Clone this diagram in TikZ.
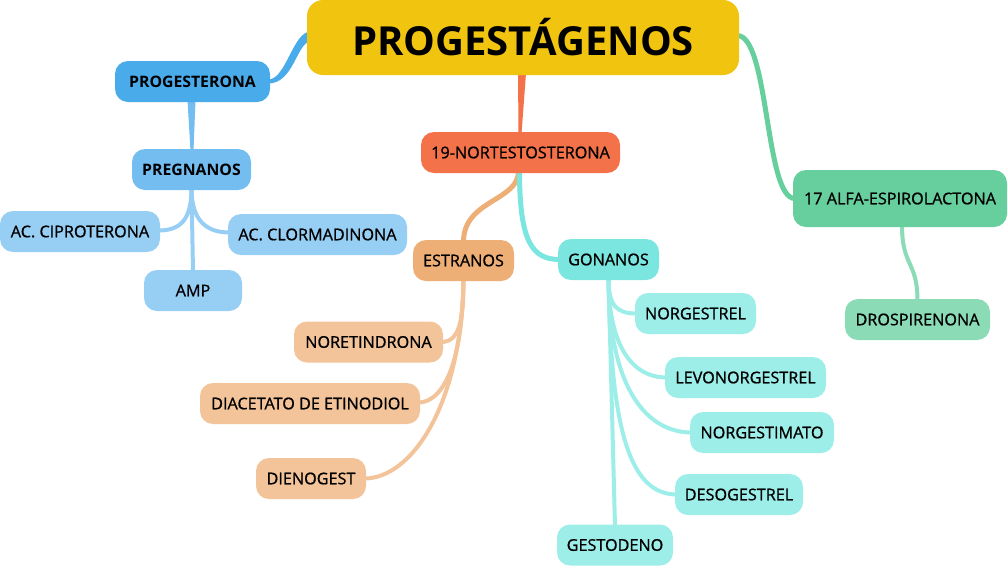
\documentclass[tikz,border=0pt]{standalone}
\usepackage{fontspec}
\setmainfont{Open Sans}
\newfontface\semibf[FakeBold=0.9]{Open Sans}
\usetikzlibrary{calc,backgrounds}
\definecolor{cTitle}{HTML}{F1C40F}
\definecolor{cProg}{HTML}{4AABEB}
\definecolor{cPreg}{HTML}{74BDF1}
\definecolor{cPregK}{HTML}{97CEF4}
\definecolor{cNor}{HTML}{F3724A}
\definecolor{cEst}{HTML}{EEAF76}
\definecolor{cEstK}{HTML}{F3C39A}
\definecolor{cGon}{HTML}{7AE6DF}
\definecolor{cGonK}{HTML}{9DEEE9}
\definecolor{cAlfa}{HTML}{67CF9E}
\definecolor{cDros}{HTML}{8ADBB6}
\begin{document}
\begin{tikzpicture}[x=1pt,y=-1pt,
  box/.style={rounded corners=13pt, minimum height=41pt, inner sep=0pt, text=black,
    font=\semibf\fontsize{16.2}{19}\selectfont},
  boldbox/.style={box, font=\bfseries\fontsize{15.8}{18}\selectfont},
  link/.style={line width=4pt, line cap=round},
  mainlink/.style={line width=5pt, line cap=round}]
\useasboundingbox (0,0) rectangle (1008,566);

% nodes
\node[box, fill=cTitle, minimum width=432pt, minimum height=75pt, rounded corners=16pt,
  font=\bfseries\fontsize{40}{44}\selectfont] (title) at (523,37.5) {PROGESTÁGENOS};

\node[boldbox, fill=cProg, minimum width=155pt] (prog) at (192.5,81.5) {PROGESTERONA};
\node[boldbox, fill=cPreg, minimum width=119pt] (preg) at (191.5,169.5) {PREGNANOS};
\node[box, fill=cPregK, minimum width=160pt] (cipro) at (80,231.5) {AC. CIPROTERONA};
\node[box, fill=cPregK, minimum width=179pt] (clor) at (317.5,234.5) {AC. CLORMADINONA};
\node[box, fill=cPregK, minimum width=98pt] (amp) at (193,290.5) {AMP};

\node[box, fill=cNor, minimum width=199pt] (nor) at (520.5,152.5) {19-NORTESTOSTERONA};
\node[box, fill=cEst, minimum width=101pt] (est) at (463.5,260.5) {ESTRANOS};
\node[box, fill=cEstK, minimum width=149pt] (noret) at (368.5,342) {NORETINDRONA};
\node[box, fill=cEstK, minimum width=220pt] (diac) at (310,403.5) {DIACETATO DE ETINODIOL};
\node[box, fill=cEstK, minimum width=110pt] (dien) at (311,478.5) {DIENOGEST};

\node[box, fill=cGon, minimum width=101pt] (gon) at (608.5,259.5) {GONANOS};
\node[box, fill=cGonK, minimum width=121pt] (norg) at (695.5,313.5) {NORGESTREL};
\node[box, fill=cGonK, minimum width=161pt] (levo) at (745.5,377.5) {LEVONORGESTREL};
\node[box, fill=cGonK, minimum width=144pt] (norgm) at (762,432.5) {NORGESTIMATO};
\node[box, fill=cGonK, minimum width=128pt] (deso) at (739,494.5) {DESOGESTREL};
\node[box, fill=cGonK, minimum width=116pt] (gest) at (615,545) {GESTODENO};

\node[box, fill=cAlfa, minimum width=214pt, minimum height=57pt] (alfa) at (900,198.5) {17 ALFA-ESPIROLACTONA};
\node[box, fill=cDros, minimum width=145pt] (dros) at (917.5,319.5) {DROSPIRENONA};

% connectors
\begin{scope}[on background layer]
  % title -> progesterona (tapered)
  \fill[cProg] ($(title.west)+(4,-6)$) .. controls ($(title.west)+(-14,-6)$) and ($(prog.east)+(16,-2)$) .. ($(prog.east)+(-2,-2)$)
    -- ($(prog.east)+(-2,2)$) .. controls ($(prog.east)+(24,2)$) and ($(title.west)+(-10,4)$) .. ($(title.west)+(4,4)$) -- cycle;
  % title -> 19-nortestosterona (tapered)
  \fill[cNor] ($(title.south)+(-5,-2)$) -- ($(title.south)+(3,-2)$) -- ($(nor.north)+(1,2)$) -- ($(nor.north)+(-2,2)$) -- cycle;
  % title -> 17 alfa
  \draw[mainlink, cAlfa] ($(title.east)+(-2,-2)$) .. controls ($(title.east)+(30,-2)$) and ($(alfa.west)+(-28,0)$) .. ($(alfa.west)+(2,0)$);
  % progesterona -> pregnanos (tapered)
  \fill[cPreg] ($(prog.south)+(-5,-2)$) -- ($(prog.south)+(3,-2)$) -- ($(preg.north)+(2,2)$) -- ($(preg.north)+(-1,2)$) -- cycle;
  % pregnanos -> children
  \draw[link, cPregK] ($(preg.south)+(0,-2)$) .. controls ($(preg.south)+(0,30)$) and ($(cipro.east)+(20,-1)$) .. ($(cipro.east)+(-2,-1)$);
  \draw[link, cPregK] ($(preg.south)+(0,-2)$) .. controls ($(preg.south)+(0,32)$) and ($(clor.west)+(-20,-2)$) .. ($(clor.west)+(2,-2)$);
  \draw[link, cPregK] ($(preg.south)+(0,-2)$) -- ($(amp.north)+(0,2)$);
  % 19-nortestosterona -> estranos / gonanos
  \draw[mainlink, cEst] ($(nor.south)+(-2,-2)$) .. controls ($(nor.south)+(-2,28)$) and ($(est.north)+(0,-40)$) .. ($(est.north)+(0,2)$);
  \draw[mainlink, cGon] ($(nor.south)+(-1,-2)$) .. controls ($(nor.south)+(-1,70)$) and ($(gon.west)+(-25,0)$) .. ($(gon.west)+(2,0)$);
  % estranos -> children
  \draw[link, cEstK] ($(est.south)+(0,-2)$) .. controls ($(est.south)+(0,40)$) and ($(noret.east)+(16,0)$) .. ($(noret.east)+(-2,0)$);
  \draw[link, cEstK] ($(est.south)+(0,-2)$) .. controls ($(est.south)+(-1,85)$) and ($(diac.east)+(22,-1)$) .. ($(diac.east)+(-2,-1)$);
  \draw[link, cEstK] ($(est.south)+(0,-2)$) .. controls ($(est.south)+(-2,125)$) and ($(dien.east)+(45,0)$) .. ($(dien.east)+(-2,0)$);
  % gonanos -> children
  \draw[link, cGonK] ($(gon.south)+(0,-2)$) .. controls ($(gon.south)+(0,26)$) and ($(norg.west)+(-18,0)$) .. ($(norg.west)+(2,0)$);
  \draw[link, cGonK] ($(gon.south)+(0,-2)$) .. controls ($(gon.south)+(0,62)$) and ($(levo.west)+(-35,0)$) .. ($(levo.west)+(2,0)$);
  \draw[link, cGonK] ($(gon.south)+(0,-2)$) .. controls ($(gon.south)+(0,105)$) and ($(norgm.west)+(-45,0)$) .. ($(norgm.west)+(2,0)$);
  \draw[link, cGonK] ($(gon.south)+(0,-2)$) .. controls ($(gon.south)+(2,150)$) and ($(deso.west)+(-45,0)$) .. ($(deso.west)+(2,0)$);
  \draw[link, cGonK] ($(gon.south)+(0,-2)$) -- ($(gest.north)+(0,2)$);
  % 17 alfa -> drospirenona
  \draw[link, cDros] ($(alfa.south)+(2,-2)$) .. controls ($(alfa.south)+(2,40)$) and ($(dros.north)+(0,-38)$) .. ($(dros.north)+(0,2)$);
\end{scope}
\end{tikzpicture}
\end{document}
